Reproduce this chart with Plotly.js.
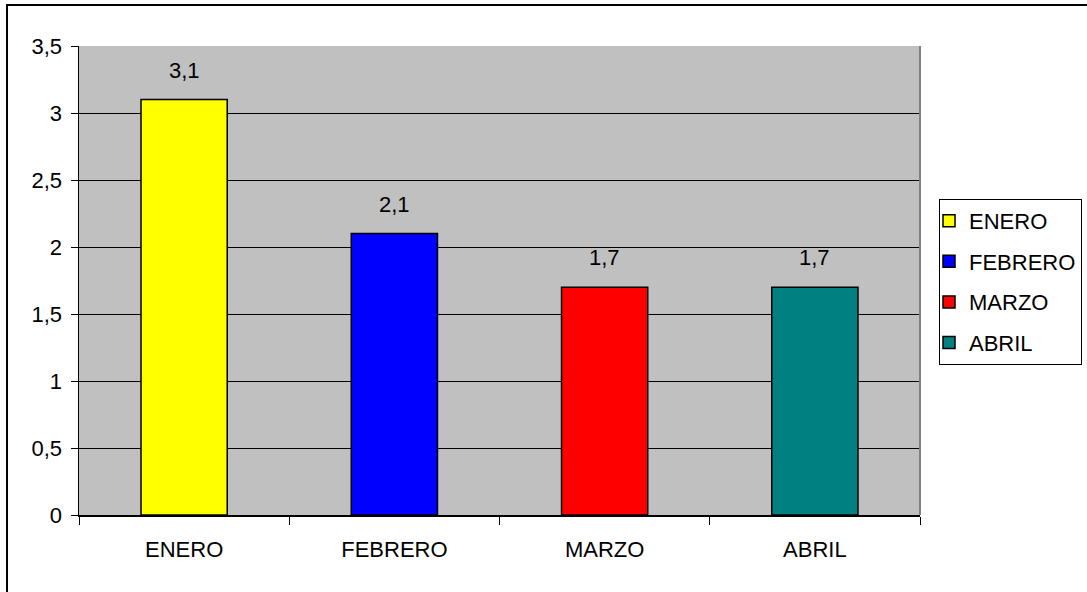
<!DOCTYPE html>
<html>
<head>
<meta charset="utf-8">
<script src="https://cdn.plot.ly/plotly-3.0.1.min.js"></script>
<style>html,body{margin:0;padding:0;background:#fff;}#chart{width:1087px;height:592px;}</style>
</head>
<body>
<div id="chart"></div>
<script>
const categories = ["ENERO", "FEBRERO", "MARZO", "ABRIL"];
const values = [3.1, 2.1, 1.7, 1.7];
const valueLabels = ["3,1", "2,1", "1,7", "1,7"];
const barColors = ["#FFFF00", "#0000FF", "#FF0000", "#008080"];
const yTickVals = [0, 0.5, 1, 1.5, 2, 2.5, 3, 3.5];
const yTickText = ["0", "0,5", "1", "1,5", "2", "2,5", "3", "3,5"];

const FONT = "Liberation Sans, Arial, sans-serif";
const FS = 22;

const traces = categories.map((c, i) => ({
  type: "bar",
  name: c,
  x: [c],
  y: [values[i]],
  width: 0.41,
  legendgroup: "g" + i,
  marker: {color: barColors[i], line: {color: "#000000", width: 1.5}},
  hoverinfo: "x+y"
}));

const annotations = categories.map((c, i) => ({
  x: c, y: values[i], xref: "x", yref: "y",
  text: valueLabels[i], showarrow: false,
  yanchor: "bottom", yshift: 15,
  font: {family: FONT, size: FS, color: "#000"}
}));

const layout = {
  width: 1087, height: 592,
  margin: {l: 79, r: 167, t: 46, b: 77, pad: 0, autoexpand: false},
  paper_bgcolor: "#FFFFFF",
  plot_bgcolor: "#C0C0C0",
  barmode: "overlay",
  showlegend: true,
  font: {family: FONT, size: FS, color: "#000"},
  xaxis: {
    type: "category",
    categoryorder: "array", categoryarray: categories,
    range: [-0.5, 3.5],
    showline: true, linecolor: "#000", linewidth: 1.5,
    ticks: "outside", ticklen: 8, tickcolor: "#000", tickwidth: 1,
    tickson: "boundaries",
    showgrid: false, zeroline: false,
    ticklabelstandoff: 14,
    tickfont: {family: FONT, size: FS, color: "#000"}
  },
  yaxis: {
    range: [0, 3.5],
    tickvals: yTickVals, ticktext: yTickText,
    showline: true, linecolor: "#000", linewidth: 1.5,
    ticks: "outside", ticklen: 7, tickcolor: "#000", tickwidth: 1,
    showgrid: true, gridcolor: "#000", gridwidth: 1,
    zeroline: false,
    ticklabelstandoff: 4,
    tickfont: {family: FONT, size: FS, color: "#000"}
  },
  legend: {
    x: 1.0226, xanchor: "left",
    y: 0.674, yanchor: "top",
    bgcolor: "#FFFFFF", bordercolor: "#000", borderwidth: 1,
    font: {family: FONT, size: FS, color: "#000"},
    tracegroupgap: 9,
    itemwidth: 30,
    indentation: -11
  },
  annotations: annotations,
  shapes: [
    {type: "line", xref: "paper", yref: "paper", x0: 1, x1: 1, y0: 0, y1: 1,
     line: {color: "#808080", width: 2}},
    {type: "rect", xref: "paper", yref: "paper",
     x0: -0.0856, x1: 1.5, y0: -0.5, y1: 1.0874,
     line: {color: "#000", width: 2}, fillcolor: "rgba(0,0,0,0)", layer: "above"}
  ]
};

Plotly.newPlot("chart", traces, layout, {displayModeBar: false, staticPlot: true});
</script>
</body>
</html>
